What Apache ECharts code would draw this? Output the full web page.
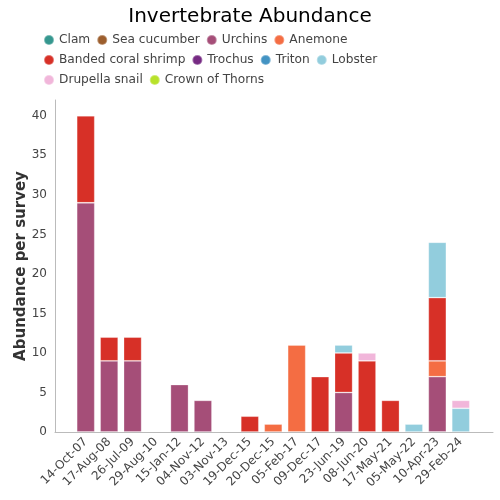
<!DOCTYPE html>
<html>
<head>
<meta charset="utf-8">
<script src="https://cdn.jsdelivr.net/npm/echarts@6/dist/echarts.min.js"></script>
<style>html,body{margin:0;padding:0;background:#fff}#c{width:500px;height:500px}</style>
</head>
<body>
<div id="c"></div>
<script>
const categories = ['14-Oct-07','17-Aug-08','26-Jul-09','29-Aug-10','15-Jan-12','04-Nov-12','03-Nov-13','19-Dec-15','20-Dec-15','05-Feb-17','09-Dec-17','23-Jun-19','08-Jun-20','17-May-21','05-May-22','10-Apr-23','29-Feb-24'];
const seriesNames = ['Clam','Sea cucumber','Urchins','Anemone','Banded coral shrimp','Trochus','Triton','Lobster','Drupella snail','Crown of Thorns'];
const seriesColors = ['#35978f','#9c5e2d','#a54e78','#f46d43','#d73027','#762a83','#4393c3','#92cddd','#f1b6da','#b8e22a'];
const clam        = [0,0,0,0,0,0,0,0,0,0,0,0,0,0,0,0,0];
const seaCucumber = [0,0,0,0,0,0,0,0,0,0,0,0,0,0,0,0,0];
const urchins     = [29,9,9,0,6,4,0,0,0,0,0,5,0,0,0,7,0];
const anemone     = [0,0,0,0,0,0,0,0,1,11,0,0,0,0,0,2,0];
const bandedShrimp= [11,3,3,0,0,0,0,2,0,0,7,5,9,4,0,8,0];
const trochus     = [0,0,0,0,0,0,0,0,0,0,0,0,0,0,0,0,0];
const triton      = [0,0,0,0,0,0,0,0,0,0,0,0,0,0,0,0,0];
const lobster     = [0,0,0,0,0,0,0,0,0,0,0,1,0,0,1,7,3];
const drupella    = [0,0,0,0,0,0,0,0,0,0,0,0,1,0,0,0,1];
const crownThorns = [0,0,0,0,0,0,0,0,0,0,0,0,0,0,0,0,0];
const yTicks = [0,5,10,15,20,25,30,35,40];

const allData = [clam,seaCucumber,urchins,anemone,bandedShrimp,trochus,triton,lobster,drupella,crownThorns];
const FONT = 'DejaVu Sans';
const yMax = 42;

const chart = echarts.init(document.getElementById('c'), null, {renderer:'canvas'});
const series = seriesNames.map((n,i)=>({
  name:n, type:'bar', stack:'total', xAxisIndex:1, yAxisIndex:1,
  barWidth:18,
  itemStyle:{color:seriesColors[i], borderColor:'rgba(255,255,255,0.35)', borderWidth:0.8},
  emphasis:{disabled:true},
  data: allData[i].map(v=> v===0 ? '-' : v)
}));

chart.setOption({
  animation:false,
  backgroundColor:'#fff',
  textStyle:{fontFamily:FONT},
  title:{text:'Invertebrate Abundance', left:'center', top:2,
    textStyle:{fontFamily:FONT, fontSize:20, fontWeight:'normal', color:'#000'}},
  legend:{
    data:seriesNames, left:43, top:33, width:360, padding:0,
    icon:'circle', itemWidth:10, itemHeight:10, itemGap:6,
    textStyle:{fontFamily:FONT, fontSize:12.2, color:'#444', lineHeight:14}
  },
  grid:[
    {left:55, right:7, top:100, bottom:68, containLabel:false},
    {left:74, right:27.5, top:100, bottom:68, containLabel:false}
  ],
  xAxis:[
    {type:'value', gridIndex:0, min:0, max:1,
      axisLine:{show:true, lineStyle:{color:'#bbb', width:1}},
      axisTick:{show:false}, axisLabel:{show:false}, splitLine:{show:false}},
    {type:'category', gridIndex:1, data:categories,
      axisLine:{show:false}, axisTick:{show:false}, splitLine:{show:false},
      axisLabel:{rotate:45, interval:0, margin:8, fontFamily:FONT, fontSize:12, color:'#444'}}
  ],
  yAxis:[
    {type:'value', gridIndex:0, min:0, max:yMax, interval:5,
      axisLine:{show:true, lineStyle:{color:'#bbb', width:1}},
      axisTick:{show:false}, splitLine:{show:false},
      axisLabel:{margin:8, fontFamily:FONT, fontSize:12, color:'#444',
        customValues:yTicks, formatter:v=>String(v)},
      name:'Abundance per survey', nameLocation:'middle', nameGap:26, nameMoveOverlap:false,
      nameTextStyle:{fontFamily:FONT, fontSize:15, fontWeight:'bold', color:'#333'}},
    {type:'value', gridIndex:1, min:0, max:yMax, show:false}
  ],
  series: series
});
</script>
</body>
</html>
